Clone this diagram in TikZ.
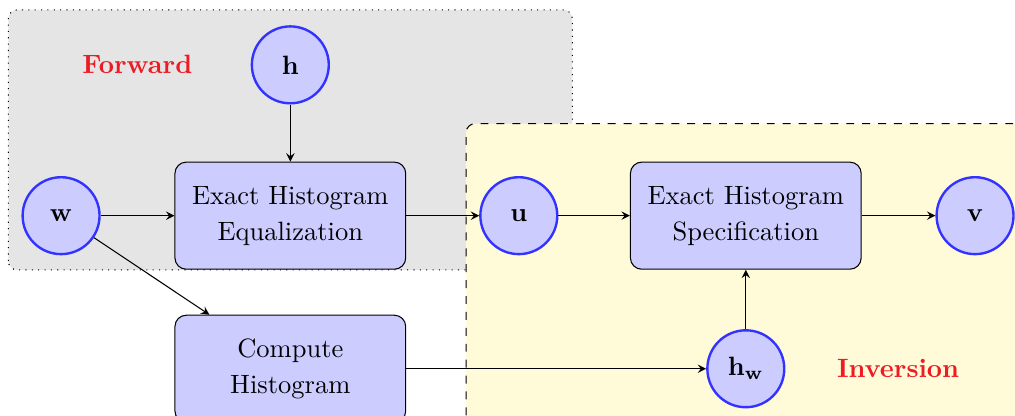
\documentclass[tikz,border=0pt]{standalone}
\usepackage{amsmath, amssymb}
\usepackage{xcolor}
\usetikzlibrary{calc}
\usetikzlibrary{arrows}
\usetikzlibrary{positioning}
\definecolor{custom-red}{RGB}{237, 28, 36}
\definecolor{custom-circle}{RGB}{51, 51, 255}
\definecolor{custom-fill}{RGB}{204, 204, 255}
\definecolor{custom-gray}{RGB}{229, 229, 229}
\definecolor{custom-yellow}{RGB}{255, 250, 215}
\begin{document}
\begin{tikzpicture}[
    var/.style={circle, draw=custom-circle, fill=custom-fill, line width=0.9pt, minimum size=1.02cm, inner sep=0pt},
    block/.style={rectangle, rounded corners=0.15cm, draw=black, fill=custom-fill, minimum width=3.06cm, minimum height=1.42cm, align=center},
    flow/.style={-stealth}
]
\clip (-0.81,-2.65) rectangle (12.65,2.86);
\filldraw[fill=custom-gray, draw=black, dotted, rounded corners=0.12cm] (-0.70,-0.72) rectangle (6.78,2.73);
\filldraw[fill=custom-yellow, draw=black, dashed, rounded corners=0.12cm] (5.37,-3.4) rectangle (13.4,1.22);
\node[text=custom-red, font=\bfseries] (forward) at (1.01,2) {Forward};
\node[text=custom-red, font=\bfseries] (inversion) at (11.1,-2.03) {Inversion};
\node[var] (w) at (0,0) {$\mathbf{w}$};
\node[block] (equal) at (3.04,0) {Exact Histogram\\[1.5pt]Equalization};
\node[var] (h) at (3.04,2) {$\mathbf{h}$};
\node[var] (u) at (6.07,0) {$\mathbf{u}$};
\node[block] (spec) at (9.08,0) {Exact Histogram\\[1.5pt]Specification};
\node[var] (v) at (12.12,0) {$\mathbf{v}$};
\node[block] (hist) at (3.04,-2.03) {Compute\\[1.5pt]Histogram};
\node[var] (hw) at (9.08,-2.03) {$\mathbf{h_w}$};
\draw[flow] (w) -- (equal);
\draw[flow] (h) -- (equal);
\draw[flow] (equal) -- (u);
\draw[flow] (u) -- (spec);
\draw[flow] (spec) -- (v);
\draw[flow] (w) -- (hist);
\draw[flow] (hist) -- (hw);
\draw[flow] (hw) -- (spec);
\end{tikzpicture}
\end{document}
